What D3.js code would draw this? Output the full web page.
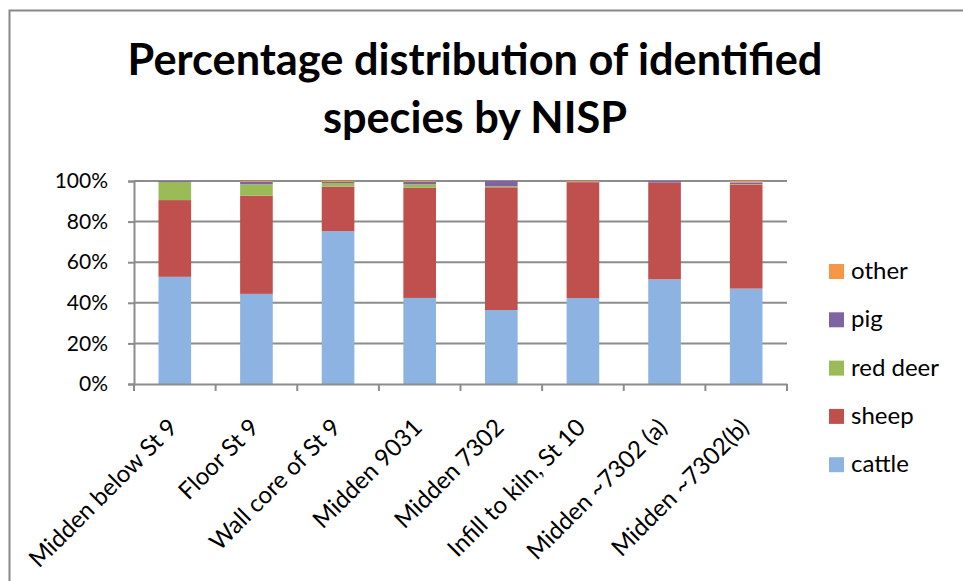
<!DOCTYPE html>
<html>
<head>
<meta charset="utf-8">
<script src="https://cdn.jsdelivr.net/npm/d3@7"></script>
<style>
  body { margin: 0; background: #fff; }
  svg { display: block; font-family: Lato, "Open Sans", sans-serif; }
</style>
</head>
<body>
<div id="chart"></div>
<script>
// categories + series values (percent of NISP)
var categories = ['Midden below St 9', 'Floor St 9', 'Wall core of St 9', 'Midden 9031',
  'Midden 7302', 'Infill to kiln, St 10', 'Midden ~7302 (a)', 'Midden ~7302(b)'];
var cattle  = [52.8, 44.4, 75.3, 42.4, 36.4, 42.3, 51.6, 47.0];
var sheep   = [37.8, 48.4, 21.9, 54.3, 60.5, 57.1, 47.6, 51.2];
var redDeer = [9.0, 5.6, 1.8, 1.7, 0.5, 0.0, 0.0, 0.2];
var pig     = [0.4, 1.2, 0.5, 1.2, 2.6, 0.2, 0.8, 0.9];
var other   = [0.0, 0.4, 0.5, 0.4, 0.0, 0.4, 0.0, 0.7];
var yTicks  = [0, 20, 40, 60, 80, 100];

var seriesNames = ['cattle', 'sheep', 'red deer', 'pig', 'other'];
var seriesVals = [cattle, sheep, redDeer, pig, other];
var colors = ['#8DB3E2', '#C0504D', '#9BBB59', '#8064A2', '#F79646'];

var W = 963, H = 581;
var svg = d3.select('#chart').append('svg').attr('width', W).attr('height', H);

// outer chart border (runs off the right / bottom edge)
svg.append('rect').attr('x', 9.5).attr('y', 10.5).attr('width', 1000).attr('height', 1000)
  .attr('fill', 'none').attr('stroke', '#888').attr('stroke-width', 2);

// title
var title = svg.append('text').attr('text-anchor', 'middle').attr('font-weight', 'bold')
  .attr('font-size', 43.3).attr('fill', '#000');
title.append('tspan').attr('x', 475).attr('y', 75).text('Percentage distribution of identified');
title.append('tspan').attr('x', 475).attr('y', 133).text('species by NISP');

var area = { l: 134, r: 787, t: 181, b: 384 };

var table = categories.map(function (c, i) {
  var row = { cat: c };
  seriesNames.forEach(function (s, j) { row[s] = seriesVals[j][i]; });
  return row;
});
var stack = d3.stack().keys(seriesNames)(table);

var x = d3.scaleBand().domain(categories).range([area.l, area.r]).paddingInner(0.6).paddingOuter(0.3);
var y = d3.scaleLinear().domain([0, 100]).range([area.b, area.t]);
var z = d3.scaleOrdinal().domain(seriesNames).range(colors);

// gridlines
svg.append('g').selectAll('line').data(yTicks.slice(1)).join('line')
  .attr('x1', area.l).attr('x2', area.r)
  .attr('y1', function (d) { return y(d); }).attr('y2', function (d) { return y(d); })
  .attr('stroke', '#8c8c8c').attr('stroke-width', 2);

// bars
svg.append('g').selectAll('g').data(stack).join('g')
  .attr('fill', function (d) { return z(d.key); })
  .selectAll('rect').data(function (d) { return d; }).join('rect')
  .attr('x', function (d) { return x(d.data.cat); })
  .attr('width', x.bandwidth())
  .attr('y', function (d) { return y(d[1]); })
  .attr('height', function (d) { return Math.max(0, y(d[0]) - y(d[1])); });

// y axis
var yAxis = svg.append('g').attr('class', 'y-axis').attr('transform', 'translate(' + area.l + ',0)')
  .call(d3.axisLeft(y).tickValues(yTicks).tickSize(6).tickPadding(20).tickFormat(function (d) { return d + '%'; }));
yAxis.selectAll('text').attr('font-size', 21).attr('fill', '#000').attr('font-family', 'Lato');

// x axis
var xAxis = svg.append('g').attr('class', 'x-axis').attr('transform', 'translate(0,' + area.b + ')')
  .call(d3.axisBottom(x).tickSize(0).tickFormat(''));
xAxis.selectAll('.tick').remove();
var bounds = d3.range(categories.length + 1).map(function (i) { return area.l + i * x.step(); });
xAxis.selectAll('line.bnd').data(bounds).join('line').attr('class', 'bnd')
  .attr('x1', function (d) { return d; }).attr('x2', function (d) { return d; })
  .attr('y1', 0).attr('y2', 7).attr('stroke', '#8c8c8c').attr('stroke-width', 2);
xAxis.selectAll('text.lbl').data(categories).join('text').attr('class', 'lbl')
  .attr('text-anchor', 'end').attr('font-size', 24).attr('font-family', 'Lato').attr('fill', '#000')
  .attr('transform', function (d) {
    return 'translate(' + (x(d) + x.bandwidth() / 2 + 4) + ',45) rotate(-45)';
  })
  .text(function (d) { return d; });

svg.selectAll('.domain').attr('stroke', '#8c8c8c').attr('stroke-width', 2);
yAxis.selectAll('.tick line').attr('stroke', '#8c8c8c').attr('stroke-width', 2);

// legend (top to bottom: other .. cattle)
var legendItems = seriesNames.slice().reverse();
var legend = svg.append('g').attr('class', 'legend');
var lg = legend.selectAll('g').data(legendItems).join('g')
  .attr('transform', function (d, i) { return 'translate(829,' + (264 + i * 48.3) + ')'; });
lg.append('rect').attr('width', 15).attr('height', 15).attr('fill', function (d) { return z(d); });
lg.append('text').attr('x', 22).attr('y', 15).attr('font-size', 24).attr('fill', '#000')
  .text(function (d) { return d; });
</script>
</body>
</html>
